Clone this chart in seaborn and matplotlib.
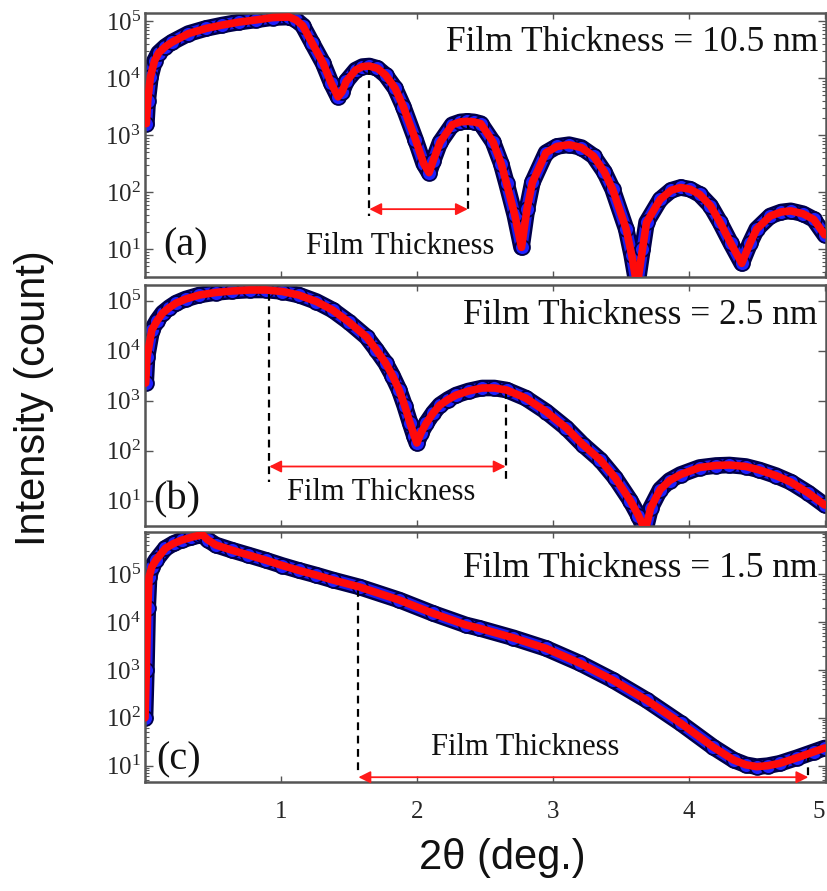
import matplotlib
matplotlib.use("Agg")
import matplotlib.pyplot as plt
import numpy as np
import pandas as pd
import seaborn as sns
from matplotlib.ticker import LogLocator, FixedLocator, NullFormatter

# ---------------- data (2theta in deg, log10 of intensity in counts) ----------------
x_a = [0.01, 0.02, 0.04, 0.07, 0.10, 0.15, 0.20, 0.32, 0.45, 0.57, 0.69, 0.82, 0.94, 1.06,
       1.11, 1.16, 1.23, 1.31, 1.37, 1.42, 1.45, 1.48, 1.55, 1.60, 1.65, 1.71, 1.77, 1.84,
       1.90, 1.99, 2.05, 2.09, 2.12, 2.17, 2.26, 2.32, 2.37, 2.42, 2.47, 2.56, 2.62, 2.66,
       2.72, 2.77, 2.81, 2.85, 2.95, 3.03, 3.12, 3.21, 3.30, 3.38, 3.44, 3.54, 3.58, 3.62,
       3.66, 3.69, 3.79, 3.87, 3.94, 4.01, 4.08, 4.16, 4.23, 4.31, 4.39, 4.45, 4.50, 4.60,
       4.68, 4.75, 4.84, 4.92, 5.00]
logI_a = [3.20, 3.60, 4.02, 4.30, 4.44, 4.55, 4.63, 4.78, 4.87, 4.93, 4.98, 5.02, 5.06, 5.07,
          5.02, 4.92, 4.61, 4.26, 3.91, 3.67, 3.76, 3.94, 4.14, 4.20, 4.21, 4.17, 4.05, 3.82,
          3.50, 2.92, 2.50, 2.34, 2.55, 2.87, 3.18, 3.23, 3.24, 3.23, 3.20, 2.88, 2.50, 2.15,
          1.60, 1.03, 1.70, 2.17, 2.69, 2.80, 2.83, 2.78, 2.63, 2.35, 2.05, 1.35, 0.90, 0.35,
          1.00, 1.47, 1.87, 2.03, 2.08, 2.05, 1.96, 1.76, 1.47, 1.10, 0.75, 1.10, 1.35, 1.58,
          1.65, 1.67, 1.62, 1.52, 1.25]

x_b = [0.005, 0.015, 0.05, 0.09, 0.13, 0.18, 0.23, 0.30, 0.40, 0.52, 0.64, 0.77, 0.89, 1.01,
       1.13, 1.26, 1.38, 1.50, 1.63, 1.70, 1.77, 1.82, 1.87, 1.91, 1.95, 1.98, 2.00, 2.03,
       2.07, 2.12, 2.17, 2.23, 2.29, 2.38, 2.48, 2.57, 2.66, 2.80, 2.95, 3.10, 3.22, 3.35,
       3.46, 3.57, 3.63, 3.68, 3.72, 3.79, 3.86, 3.94, 4.08, 4.20, 4.30, 4.42, 4.52, 4.64,
       4.75, 4.88, 5.00]
logI_b = [3.35, 3.87, 4.41, 4.60, 4.75, 4.86, 4.95, 5.03, 5.11, 5.16, 5.19, 5.21, 5.21, 5.18,
          5.11, 4.98, 4.81, 4.57, 4.27, 4.02, 3.75, 3.50, 3.21, 2.90, 2.55, 2.30, 2.15, 2.35,
          2.55, 2.75, 2.91, 3.02, 3.11, 3.19, 3.25, 3.25, 3.21, 3.05, 2.78, 2.45, 2.12, 1.81,
          1.45, 1.00, 0.70, 0.40, 0.85, 1.22, 1.40, 1.52, 1.66, 1.70, 1.71, 1.68, 1.61, 1.50,
          1.37, 1.15, 0.91]

x_c = [0.00, 0.01, 0.02, 0.03, 0.05, 0.08, 0.15, 0.21, 0.27, 0.34, 0.40, 0.42, 0.46, 0.52,
       0.64, 0.76, 0.89, 1.01, 1.13, 1.26, 1.38, 1.58, 1.87, 2.12, 2.36, 2.46, 2.71, 2.95,
       3.20, 3.44, 3.69, 3.94, 4.18, 4.33, 4.42, 4.50, 4.58, 4.67, 4.80, 4.92, 5.00]
logI_c = [2.00, 3.00, 4.30, 4.94, 5.15, 5.29, 5.54, 5.64, 5.71, 5.77, 5.81, 5.83, 5.72, 5.61,
          5.50, 5.40, 5.29, 5.18, 5.08, 4.98, 4.88, 4.73, 4.46, 4.18, 3.94, 3.87, 3.67, 3.45,
          3.14, 2.79, 2.37, 1.89, 1.39, 1.12, 1.02, 0.98, 1.00, 1.05, 1.17, 1.29, 1.37]

titles = ["Film Thickness = 10.5 nm", "Film Thickness = 2.5 nm", "Film Thickness = 1.5 nm"]
panel_tags = ["(a)", "(b)", "(c)"]
# thickness markers: (x_left, log_top_left, x_right, log_top_right, log_arrow)
marks = [(1.65, 4.20, 2.375, 3.24, 1.70),
         (0.914, 5.15, 2.653, 3.20, 1.68),
         (1.57, 4.70, 4.88, 1.25, 0.76)]
xticks = [1, 2, 3, 4, 5]
xticklabels = ["1", "2", "3", "4", "5"]

# ---------------- style ----------------
sns.set_theme(style="white")
plt.rcParams["font.family"] = ["Liberation Serif", "DejaVu Serif"]
plt.rcParams["mathtext.fontset"] = "custom"
plt.rcParams["mathtext.rm"] = "Liberation Serif"
plt.rcParams["mathtext.it"] = "Liberation Serif:italic"

fig = plt.figure(figsize=(8.27, 8.91), dpi=100)
W, H = 827.0, 891.0
boxes = [(13, 277), (285, 526), (532, 782)]
ylims = [(0.51, 5.14), (0.49, 5.31), (0.66, 5.88)]
title_y = [4.63, 4.69, 5.12]
tag_pos = [(0.295, 1.05), (0.236, 1.01), (0.25, 1.12)]
ft_pos = [(1.88, 1.05), (1.74, 1.15), (2.80, 1.37)]
dash_bottom = [(1.58, 1.64), (1.38, 1.41), (0.85, 0.70)]

datasets = [(x_a, logI_a), (x_b, logI_b), (x_c, logI_c)]
left, right = 145, 826
for i, ((top, bot), (xs, ls)) in enumerate(zip(boxes, datasets)):
    ax = fig.add_axes([left / W, 1 - bot / H, (right - left) / W, (bot - top) / H])
    df = pd.DataFrame({"two_theta": xs, "intensity": 10 ** np.asarray(ls)})
    # measured data: band of blue circles with dark edges
    sns.lineplot(data=df, x="two_theta", y="intensity", ax=ax, color="#00004a",
                 lw=12, solid_capstyle="round", solid_joinstyle="round", zorder=1)
    sns.lineplot(data=df, x="two_theta", y="intensity", ax=ax, color="#1c1cf0",
                 lw=8.5, solid_capstyle="round", solid_joinstyle="round", zorder=1.2)
    sns.scatterplot(data=df, x="two_theta", y="intensity", ax=ax, color="#2020ff",
                    edgecolor="#00004a", linewidth=1.3, s=115, zorder=2)
    # fit
    sns.lineplot(data=df, x="two_theta", y="intensity", ax=ax, color="#ff0a0a",
                 lw=5.5, solid_joinstyle="round", zorder=3)
    ax.set_yscale("log")
    ax.set_xlim(0, 5.01)
    ax.set_ylim(10 ** ylims[i][0], 10 ** ylims[i][1])
    ax.set_xlabel("")
    ax.set_ylabel("")
    ax.xaxis.set_major_locator(FixedLocator(xticks))
    ax.yaxis.set_major_locator(FixedLocator([1e1, 1e2, 1e3, 1e4, 1e5]))
    ax.yaxis.set_minor_locator(LogLocator(base=10, subs=np.arange(2, 10)))
    ax.yaxis.set_minor_formatter(NullFormatter())
    ax.tick_params(axis="both", which="both", direction="in", top=True, right=True,
                   left=True, bottom=True, color="#555555")
    ax.tick_params(axis="y", which="major", length=6, width=1.0, labelsize=18, pad=3)
    ax.tick_params(axis="y", which="minor", length=3, width=0.8)
    ax.tick_params(axis="x", which="major", length=4, width=1.0, labelsize=18, pad=14)
    if i < 2:
        ax.tick_params(axis="x", labelbottom=False)
    else:
        ax.set_xticklabels(xticklabels)
        ax.get_xticklabels()[-1].set_horizontalalignment("right")
    for sp in ax.spines.values():
        sp.set_color("#555555")
        sp.set_linewidth(1.8)

    # annotations
    xl, ytl, xr, ytr, ya = marks[i]
    ax.plot([xl, xl], [10 ** ytl, 10 ** dash_bottom[i][0]], ls=(0, (3.5, 2.5)),
            color="black", lw=1.6, zorder=2.5)
    ax.plot([xr, xr], [10 ** ytr, 10 ** dash_bottom[i][1]], ls=(0, (3.5, 2.5)),
            color="black", lw=1.6, zorder=2.5)
    ax.annotate("", xy=(xr, 10 ** ya), xytext=(xl, 10 ** ya),
                arrowprops=dict(arrowstyle="<|-|>", color="#ff1a1a", lw=1.3,
                                mutation_scale=18, shrinkA=0, shrinkB=0), zorder=4)
    ax.text(ft_pos[i][0], 10 ** ft_pos[i][1], "Film Thickness", ha="center", va="center",
            fontsize=22, color="#111111")
    ax.text(4.95, 10 ** title_y[i], titles[i], ha="right", va="center", fontsize=25.5,
            color="#111111")
    ax.text(tag_pos[i][0], 10 ** tag_pos[i][1], panel_tags[i], ha="center", va="center",
            fontsize=29, color="#111111")

fig.text(34 / W, 1 - 398.5 / H, "Intensity (count)", rotation=90, ha="center", va="center",
         fontsize=30, family=["Liberation Sans", "DejaVu Sans"], color="#111111")
fig.text(502 / W, 1 - 858 / H, "2θ (deg.)", ha="center", va="center",
         fontsize=30, family=["Liberation Sans", "DejaVu Sans"], color="#111111")

fig.savefig("out.png", dpi=100)
